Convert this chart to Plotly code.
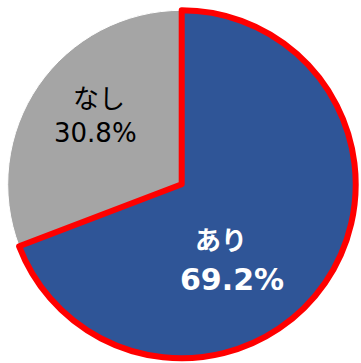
import plotly.graph_objects as go

labels = ["なし", "あり"]
values = [30.8, 69.2]
colors = ["#A5A5A5", "#2F5597"]
line_colors = ["#FFFFFF", "#FF0000"]
line_widths = [1, 6]

W, H = 361, 363
# gray slice first so that the blue slice (with red border) is drawn on top;
# rotate so the blue slice starts at 12 o'clock
rot = -values[0] / sum(values) * 360

cx, cy, r = 181.7, 184.3, 174.0
fig = go.Figure(go.Pie(
    labels=labels,
    values=values,
    sort=False,
    direction="clockwise",
    rotation=rot,
    marker=dict(colors=colors, line=dict(color=line_colors, width=line_widths)),
    textinfo="none",
    hoverinfo="skip",
    showlegend=False,
    domain=dict(x=[(cx - r) / W, (cx + r) / W], y=[1 - (cy + r) / H, 1 - (cy - r) / H]),
))

font_family = "DejaVu Sans, Noto Sans CJK JP"
ann = [
    dict(text=labels[0], x=99, y=99, size=26, color="#000000", bold=False),
    dict(text=f"{values[0]:.1f}%", x=95, y=133, size=26, color="#000000", bold=False),
    dict(text=labels[1], x=221, y=241, size=26, color="#FFFFFF", bold=True),
    dict(text=f"{values[1]:.1f}%", x=232, y=279, size=30, color="#FFFFFF", bold=True),
]
for a in ann:
    fig.add_annotation(
        text=f"<b>{a['text']}</b>" if a["bold"] else a["text"],
        x=a["x"] / W, y=1 - a["y"] / H, xref="paper", yref="paper",
        xanchor="center", yanchor="middle", showarrow=False,
        font=dict(family=font_family, size=a["size"], color=a["color"]),
    )

fig.update_layout(
    width=W, height=H,
    margin=dict(l=0, r=0, t=0, b=0),
    paper_bgcolor="#FFFFFF",
    plot_bgcolor="#FFFFFF",
)
fig.write_html("out.html")
